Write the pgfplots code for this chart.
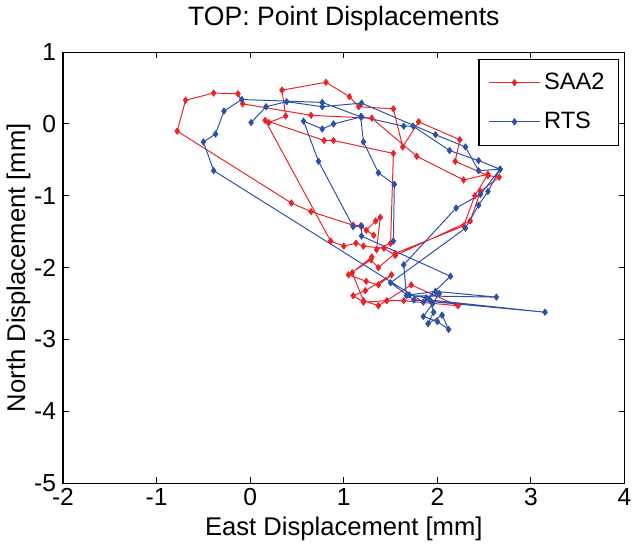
\documentclass[border=0pt]{standalone}
\usepackage{pgfplots}
\pgfplotsset{compat=1.18}
\usepackage{fontspec}
\setmainfont{Liberation Sans}
\definecolor{saared}{RGB}{235,35,40}
\definecolor{rtsblue}{RGB}{45,80,170}
\begin{document}
\begin{tikzpicture}
\begin{axis}[
  scale only axis=true,
  width=284bp, height=218bp,
  xmin=-2, xmax=4, ymin=-5, ymax=1,
  xtick={-2,-1,0,1,2,3,4}, ytick={-5,-4,-3,-2,-1,0,1},
  /pgf/number format/assume math mode=true,
  tick label style={font=\fontsize{12.5}{14}\selectfont},
  xticklabel style={yshift=1pt},
  label style={font=\fontsize{13}{15}\selectfont},
  title style={font=\fontsize{13.5}{15}\selectfont, yshift=1pt},
  title={TOP: Point Displacements},
  xlabel={East Displacement [mm]},
  ylabel={North Displacement [mm]},
  xlabel style={yshift=1pt},
  ylabel style={yshift=-5pt},
  tick align=inside, tick style={black, line width=0.5pt},
  major tick length=3pt,
  axis line style={line width=0.6pt},
  legend style={at={(0.99,0.985)}, anchor=north east, font=\fontsize{12}{14}\selectfont, draw=black, line width=0.6pt, row sep=6pt, inner xsep=5pt, inner ysep=5pt},
  legend image code/.code={\draw[#1] (0cm,0cm) -- (0.9cm,0cm); \draw[#1, only marks] plot coordinates {(0.45cm,0cm)};},
  legend cell align=left,
]
\addplot[color=saared, line width=0.5pt, mark=diamond*, mark size=1.5pt, mark options={solid}] coordinates {
(0.20,0.02) (0.38,0.11) (0.34,0.47) (0.81,0.58) (1.06,0.38) (1.16,0.24) (1.53,0.21) (1.63,-0.32) (1.80,0.03) (2.24,-0.22) (2.19,-0.52) (2.54,-0.72) (2.66,-0.74) (2.46,-0.94) (2.35,-1.35) (1.55,-1.83) (1.43,-1.73) (1.21,-1.70) (1.13,-1.66) (1.00,-1.70) (0.86,-1.63) (0.16,0.05) (0.79,-0.23) (0.89,-0.23) (1.53,-0.41) (1.50,-1.66) (1.35,-1.75) (1.39,-1.30) (1.34,-1.35) (1.24,-1.48) (1.32,-1.55) (1.18,-1.42) (1.10,-1.41) (0.65,-1.22) (0.44,-1.10) (-0.78,-0.10) (-0.69,0.33) (-0.39,0.43) (-0.13,0.42) (-0.08,0.28) (0.65,0.12) (1.30,0.08) (1.78,-0.45) (2.28,-0.78) (2.54,-0.70) (2.40,-1.00) (2.28,-1.42) (1.55,-1.80) (1.37,-2.00) (1.29,-1.89) (1.05,-2.10) (1.24,-2.19) (1.37,-2.24) (1.51,-2.10) (1.23,-2.32) (1.10,-2.39) (1.21,-2.48) (1.46,-2.46) (1.64,-2.46) (2.22,-2.53) (1.72,-2.24) (1.37,-2.53) (1.21,-2.46) (1.09,-2.07) (1.30,-1.85)
};
\addlegendentry{SAA2}
\addplot[color=rtsblue, line width=0.5pt, mark=diamond*, mark size=1.5pt, mark options={solid}] coordinates {
(0.01,0.02) (0.17,0.24) (0.39,0.31) (0.77,0.24) (1.19,0.29) (1.98,-0.15) (2.30,-0.32) (2.44,-0.65) (2.67,-0.63) (2.54,-0.94) (2.44,-1.13) (2.30,-1.45) (1.50,-2.21) (1.75,-2.45) (3.15,-2.62) (1.92,-2.45) (1.96,-2.62) (1.90,-2.78) (2.05,-2.66) (2.12,-2.86) (2.00,-2.75) (1.85,-2.68) (1.95,-2.50) (2.02,-2.36) (1.88,-2.42) (1.70,-2.38) (1.98,-2.33) (2.63,-2.41) (1.67,-2.39) (1.64,-1.96) (2.20,-1.17) (2.46,-0.98) (2.67,-0.63) (2.44,-0.51) (2.13,-0.37) (1.74,-0.03) (1.64,-0.03) (1.19,0.10) (0.89,0.00) (0.77,-0.07) (0.57,0.04) (0.73,-0.52) (1.10,-1.43) (1.19,-1.42) (1.19,-1.56) (2.14,-2.12) (1.85,-2.48) (-0.39,-0.65) (-0.50,-0.25) (-0.37,-0.14) (-0.28,0.18) (-0.09,0.34) (0.77,0.30) (1.18,0.10) (1.21,-0.25) (1.37,-0.68) (1.54,-0.84) (1.53,-1.63)
};
\addlegendentry{RTS}
\end{axis}
\end{tikzpicture}
\end{document}
